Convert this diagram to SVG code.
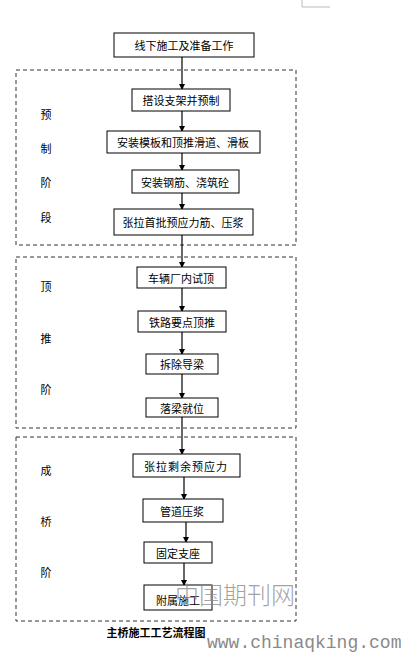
<svg xmlns="http://www.w3.org/2000/svg" width="403" height="655" viewBox="0 0 403 655">
<defs>
<marker id="ah" markerWidth="6" markerHeight="6" refX="5" refY="3" orient="auto" markerUnits="userSpaceOnUse">
<path d="M0,0 L6,3 L0,6 Z" fill="#000"/>
</marker>
<style>
.box{fill:#fff;stroke:#000;stroke-width:1}
.stage{fill:none;stroke:#333;stroke-width:1;stroke-dasharray:4,3}
.t{font-family:"Noto Sans CJK SC","Liberation Sans",sans-serif;font-size:11px;fill:#000;text-anchor:middle;dominant-baseline:central}
.s{font-family:"Noto Sans CJK SC","Liberation Sans",sans-serif;font-size:11px;fill:#000;text-anchor:middle;dominant-baseline:central}
.c{stroke:#000;stroke-width:1.2;fill:none;marker-end:url(#ah)}
</style>
</defs>
<rect width="403" height="655" fill="#fff"/>
<path d="M302,0 V7 H330" fill="none" stroke="#bbb" stroke-width="1"/>
<g id="stages">
<rect class="stage" x="16" y="70" width="280" height="175"/>
<rect class="stage" x="16" y="257" width="280" height="171"/>
<rect class="stage" x="16" y="437" width="280" height="184"/>
<text class="s" x="46" y="114">预</text>
<text class="s" x="46" y="148">制</text>
<text class="s" x="46" y="182">阶</text>
<text class="s" x="46" y="217">段</text>
<text class="s" x="46" y="286">顶</text>
<text class="s" x="46" y="338">推</text>
<text class="s" x="46" y="389">阶</text>
<text class="s" x="46" y="470">成</text>
<text class="s" x="46" y="521">桥</text>
<text class="s" x="46" y="572">阶</text>
</g>
<g id="connectors">
<line class="c" x1="182" y1="57" x2="182" y2="89"/>
<line class="c" x1="182" y1="111" x2="182" y2="131"/>
<line class="c" x1="182" y1="153" x2="182" y2="170"/>
<line class="c" x1="182" y1="193" x2="182" y2="209"/>
<line class="c" x1="182" y1="235" x2="182" y2="267"/>
<line class="c" x1="182" y1="288" x2="182" y2="311"/>
<line class="c" x1="182" y1="332" x2="182" y2="354"/>
<line class="c" x1="182" y1="374" x2="182" y2="398"/>
<line class="c" x1="182" y1="417" x2="182" y2="454"/>
<line class="c" x1="184" y1="477" x2="184" y2="499"/>
<line class="c" x1="186" y1="522" x2="186" y2="542"/>
<line class="c" x1="184" y1="563" x2="184" y2="585"/>
</g>
<g id="n1"><rect class="box" x="114" y="33" width="140" height="24"/><text class="t" x="184" y="45">线下施工及准备工作</text></g>
<g id="n2"><rect class="box" x="132" y="89" width="98" height="22"/><text class="t" x="181" y="100">搭设支架并预制</text></g>
<g id="n3"><rect class="box" x="107" y="131" width="153" height="22"/><text class="t" x="183" y="142">安装模板和顶推滑道、滑板</text></g>
<g id="n4"><rect class="box" x="132" y="170" width="107" height="23"/><text class="t" x="185" y="182">安装钢筋、浇筑砼</text></g>
<g id="n5"><rect class="box" x="114" y="209" width="139" height="26"/><text class="t" x="183" y="222">张拉首批预应力筋、压浆</text></g>
<g id="n6"><rect class="box" x="137" y="267" width="89" height="21"/><text class="t" x="181" y="278">车辆厂内试顶</text></g>
<g id="n7"><rect class="box" x="138" y="311" width="88" height="21"/><text class="t" x="182" y="322">铁路要点顶推</text></g>
<g id="n8"><rect class="box" x="146" y="354" width="72" height="20"/><text class="t" x="182" y="364">拆除导梁</text></g>
<g id="n9"><rect class="box" x="146" y="398" width="72" height="19"/><text class="t" x="182" y="408">落梁就位</text></g>
<g id="n10"><rect class="box" x="133" y="454" width="107" height="23"/><text class="t" x="186" y="466" letter-spacing="1">张拉剩余预应力</text></g>
<g id="n11"><rect class="box" x="143" y="499" width="80" height="23"/><text class="t" x="182" y="511">管道压浆</text></g>
<g id="n12"><rect class="box" x="144" y="542" width="68" height="21"/><text class="t" x="178" y="553">固定支座</text></g>
<g id="n13"><rect class="box" x="144" y="585" width="68" height="25"/><text class="t" x="178" y="600">附属施工</text></g>
<text x="156" y="637" font-family="'Noto Sans CJK SC',sans-serif" font-size="11" font-weight="bold" text-anchor="middle">主桥施工工艺流程图</text>
<g id="watermark" fill="#8a8a8a">
<text x="235" y="604" font-family="'Noto Sans CJK SC',serif" font-size="24" font-weight="300" text-anchor="middle" fill-opacity="0.8">中国期刊网</text>
<text x="207" y="648" font-family="'Liberation Mono',monospace" font-size="18">www.chinaqking.com</text>
</g>
</svg>
